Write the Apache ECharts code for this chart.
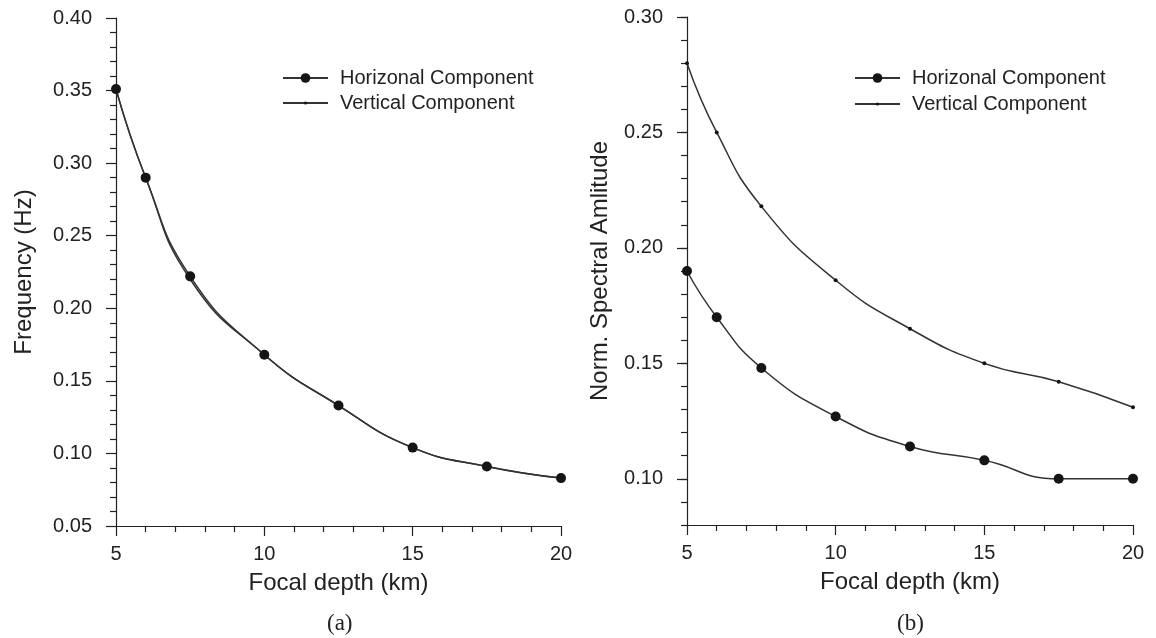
<!DOCTYPE html>
<html>
<head>
<meta charset="utf-8">
<title>Focal depth dependence</title>
<script src="https://cdn.jsdelivr.net/npm/echarts@6/dist/echarts.min.js"></script>
<style>
  html, body { margin: 0; padding: 0; background: #ffffff; }
  #chart { width: 1156px; height: 638px; }
</style>
</head>
<body>
<div id="chart"></div>
<script>
// Focal depth (km) at which the spectra were evaluated
const depths = [5, 6, 7.5, 10, 12.5, 15, 17.5, 20];

// (a) dominant frequency (Hz)
const freqHorizontal = [0.351, 0.290, 0.222, 0.168, 0.133, 0.104, 0.091, 0.083];
const freqVertical   = [0.351, 0.290, 0.220, 0.168, 0.133, 0.104, 0.091, 0.083];

// (b) normalised spectral amplitude
const ampHorizontal = [0.190, 0.170, 0.148, 0.127, 0.114, 0.108, 0.100, 0.100];
const ampVertical   = [0.280, 0.250, 0.218, 0.186, 0.165, 0.150, 0.142, 0.131];

// Labelled ticks on the right-hand amplitude axis
const ampTickLabels = [0.10, 0.15, 0.20, 0.25, 0.30];

const seriesNames = ['Horizonal Component', 'Vertical Component'];
const panelCaptions = ['(a)', '(b)'];

const FONT = 'Liberation Sans, Arial, sans-serif';
const INK = '#222222';
const LINE = '#333333';

const pairs = ys => depths.map((d, i) => [d, ys[i]]);

function xAxisFor(gridIndex) {
  return {
    type: 'value', gridIndex,
    min: 5, max: 20, interval: 5,
    name: 'Focal depth (km)', nameLocation: 'middle', nameGap: 45,
    nameTextStyle: { fontFamily: FONT, fontSize: 24, color: INK },
    axisLine: { lineStyle: { color: INK, width: 1.2 } },
    axisTick: { length: 10, lineStyle: { color: INK, width: 1.2 } },
    minorTick: { show: true, splitNumber: 5, length: 6, lineStyle: { color: INK, width: 1.2 } },
    axisLabel: { fontFamily: FONT, fontSize: 20, color: INK, margin: 18 },
    splitLine: { show: false }
  };
}

const axisTextY = { fontFamily: FONT, fontSize: 20, color: INK, margin: 24, formatter: v => v.toFixed(2) };

function makeSeries(name, data, gridIdx, yIdx, big) {
  return {
    name, type: 'line', data,
    xAxisIndex: gridIdx, yAxisIndex: yIdx,
    smooth: 0.5,
    symbol: 'circle', symbolSize: big ? 10 : 4,
    lineStyle: { color: LINE, width: 1.5 },
    itemStyle: { color: '#151515' },
    z: big ? 3 : 2,
    animation: false
  };
}

function legendFor(name, left, top, big) {
  return {
    data: [name], left, top, padding: 0,
    orient: 'vertical',
    itemWidth: 45, itemHeight: big ? 12 : 4,
    selectedMode: false,
    textStyle: { fontFamily: FONT, fontSize: 20, color: INK, padding: [0, 0, 0, 7] }
  };
}

const option = {
  backgroundColor: '#ffffff',
  animation: false,
  grid: [
    { left: 116, top: 18, width: 445, height: 508 },
    { left: 687, top: 17, width: 446, height: 508 }
  ],
  xAxis: [xAxisFor(0), xAxisFor(1)],
  yAxis: [
    {
      type: 'value', gridIndex: 0,
      min: 0.05, max: 0.40, interval: 0.05,
      name: 'Frequency (Hz)', nameLocation: 'middle', nameGap: 80,
      nameTextStyle: { fontFamily: FONT, fontSize: 24, color: INK },
      axisLine: { show: true, lineStyle: { color: INK, width: 1.2 } },
      axisTick: { show: true, length: 10, lineStyle: { color: INK, width: 1.2 } },
      minorTick: { show: true, splitNumber: 5, length: 6, lineStyle: { color: INK, width: 1.2 } },
      axisLabel: axisTextY,
      splitLine: { show: false }
    },
    {
      type: 'value', gridIndex: 1, position: 'left',
      min: 0.08, max: 0.30,
      name: 'Norm. Spectral Amlitude', nameLocation: 'middle', nameGap: 75,
      nameTextStyle: { fontFamily: FONT, fontSize: 24, color: INK },
      axisLine: { show: true, lineStyle: { color: INK, width: 1.2 } },
      axisTick: { show: true, length: 10, customValues: ampTickLabels, lineStyle: { color: INK, width: 1.2 } },
      axisLabel: Object.assign({ customValues: ampTickLabels }, axisTextY),
      splitLine: { show: false }
    },
    {
      // fine 0.01 ticks along the amplitude axis
      type: 'value', gridIndex: 1, position: 'left', offset: 0,
      min: 0.08, max: 0.30, interval: 0.01,
      axisLine: { show: false },
      axisTick: { show: true, length: 6, lineStyle: { color: INK, width: 1.2 } },
      axisLabel: { show: false },
      splitLine: { show: false }
    }
  ],
  legend: [
    legendFor(seriesNames[0], 282, 68, true),
    legendFor(seriesNames[1], 282, 93, false),
    legendFor(seriesNames[0], 854, 68, true),
    legendFor(seriesNames[1], 854, 94, false)
  ],
  graphic: [
    { type: 'text', left: 327, top: 612, style: { text: panelCaptions[0], font: '23px "Liberation Serif", "Times New Roman", serif', fill: INK } },
    { type: 'text', left: 897, top: 612, style: { text: panelCaptions[1], font: '23px "Liberation Serif", "Times New Roman", serif', fill: INK } }
  ],
  series: [
    makeSeries(seriesNames[1], pairs(freqVertical), 0, 0, false),
    makeSeries(seriesNames[0], pairs(freqHorizontal), 0, 0, true),
    makeSeries(seriesNames[1], pairs(ampVertical), 1, 1, false),
    makeSeries(seriesNames[0], pairs(ampHorizontal), 1, 1, true)
  ]
};

const chart = echarts.init(document.getElementById('chart'), null, { renderer: 'canvas' });
chart.setOption(option);
</script>
</body>
</html>
